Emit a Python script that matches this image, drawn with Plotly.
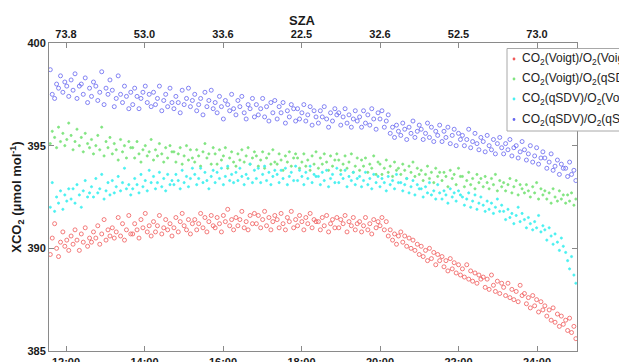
import plotly.graph_objects as go

# ---------------- data ----------------
times = [
    11.60, 11.65, 11.71, 11.76, 11.81, 11.86, 11.92, 11.97, 12.02, 12.07,
    12.13, 12.18, 12.23, 12.28, 12.34, 12.39, 12.44, 12.49, 12.55, 12.60,
    12.65, 12.70, 12.76, 12.81, 12.86, 12.91, 12.97, 13.02, 13.07, 13.12,
    13.18, 13.23, 13.28, 13.33, 13.39, 13.44, 13.49, 13.54, 13.60, 13.65,
    13.70, 13.75, 13.81, 13.86, 13.91, 13.96, 14.02, 14.07, 14.12, 14.17,
    14.23, 14.28, 14.33, 14.38, 14.44, 14.49, 14.54, 14.59, 14.65, 14.70,
    14.75, 14.80, 14.86, 14.91, 14.96, 15.01, 15.07, 15.12, 15.17, 15.22,
    15.28, 15.33, 15.38, 15.43, 15.49, 15.54, 15.59, 15.64, 15.70, 15.75,
    15.80, 15.85, 15.91, 15.96, 16.01, 16.06, 16.12, 16.17, 16.22, 16.27,
    16.33, 16.38, 16.43, 16.48, 16.54, 16.59, 16.64, 16.69, 16.75, 16.80,
    16.85, 16.90, 16.96, 17.01, 17.06, 17.11, 17.17, 17.22, 17.27, 17.32,
    17.38, 17.43, 17.48, 17.53, 17.59, 17.64, 17.69, 17.74, 17.80, 17.85,
    17.90, 17.95, 18.01, 18.06, 18.11, 18.16, 18.22, 18.27, 18.32, 18.37,
    18.43, 18.48, 18.53, 18.58, 18.64, 18.69, 18.74, 18.79, 18.85, 18.90,
    18.95, 19.00, 19.06, 19.11, 19.16, 19.21, 19.27, 19.32, 19.37, 19.42,
    19.48, 19.53, 19.58, 19.63, 19.69, 19.74, 19.79, 19.84, 19.90, 19.95,
    20.00, 20.05, 20.11, 20.16, 20.21, 20.26, 20.32, 20.37, 20.42, 20.47,
    20.53, 20.58, 20.63, 20.68, 20.74, 20.79, 20.84, 20.89, 20.95, 21.00,
    21.05, 21.10, 21.16, 21.21, 21.26, 21.31, 21.37, 21.42, 21.47, 21.52,
    21.58, 21.63, 21.68, 21.73, 21.79, 21.84, 21.89, 21.94, 22.00, 22.05,
    22.10, 22.15, 22.21, 22.26, 22.31, 22.36, 22.42, 22.47, 22.52, 22.57,
    22.63, 22.68, 22.73, 22.78, 22.84, 22.89, 22.94, 22.99, 23.05, 23.10,
    23.15, 23.20, 23.26, 23.31, 23.36, 23.41, 23.47, 23.52, 23.57, 23.62,
    23.68, 23.73, 23.78, 23.83, 23.89, 23.94, 23.99, 24.04, 24.10, 24.15,
    24.20, 24.25, 24.31, 24.36, 24.41, 24.46, 24.52, 24.57, 24.62, 24.67,
    24.73, 24.78, 24.83, 24.88, 24.94, 24.99,
]

# CO2(Voigt)/O2(Voigt)  (red)
xco2_voigt_voigt = [
    389.7, 390.5, 391.2, 390.0, 389.6, 390.3, 390.8, 390.1, 390.4, 389.9,
    390.6, 390.2, 390.9, 390.4, 389.9, 390.7, 390.3, 391.0, 390.1, 390.5,
    390.3, 390.8, 390.5, 391.1, 390.2, 390.7, 391.4, 390.4, 390.9, 390.6,
    391.0, 390.5, 390.8, 391.5, 390.6, 391.2, 390.4, 390.9, 391.6, 390.7,
    390.7, 391.2, 390.9, 390.5, 391.4, 391.0, 391.7, 390.8, 391.1, 390.6,
    391.3, 390.8, 391.1, 391.6, 390.7, 391.0, 391.4, 390.9, 391.2, 390.6,
    391.0, 391.5, 390.8, 391.3, 391.7, 391.1, 390.9, 391.4, 390.7, 391.2,
    391.4, 390.9, 391.2, 391.7, 391.0, 391.5, 390.8, 391.3, 391.6, 391.1,
    391.0, 391.5, 391.2, 390.8, 391.6, 391.3, 391.9, 391.1, 391.4, 390.9,
    391.5, 391.1, 391.4, 391.8, 391.0, 391.3, 390.9, 391.6, 391.2, 391.7,
    391.2, 391.6, 391.0, 391.4, 391.8, 391.1, 391.5, 390.9, 391.3, 391.6,
    391.4, 391.0, 391.7, 391.2, 390.9, 391.5, 391.3, 391.8, 391.0, 391.4,
    391.1, 391.6, 391.3, 390.9, 391.5, 391.2, 391.7, 391.0, 391.4, 391.3,
    391.3, 390.9, 391.5, 391.1, 391.6, 390.8, 391.2, 391.4, 391.0, 391.5,
    391.0, 391.4, 391.2, 391.6, 390.8, 391.3, 391.1, 391.5, 390.9, 391.2,
    391.3, 390.8, 391.1, 391.5, 390.9, 391.2, 390.7, 391.4, 391.0, 391.3,
    391.1, 391.5, 390.9, 391.3, 390.6, 390.9, 390.4, 390.7, 390.2, 390.6,
    390.8, 390.3, 390.6, 390.1, 390.5, 390.0, 390.4, 389.9, 390.2, 389.7,
    390.1, 389.6, 389.9, 389.4, 390.0, 389.5, 389.8, 389.2, 389.7, 389.4,
    389.6, 389.1, 389.4, 388.9, 389.5, 389.0, 389.3, 388.8, 389.2, 388.7,
    389.0, 388.6, 389.2, 388.5, 388.9, 388.4, 388.8, 388.3, 388.7, 388.5,
    388.6, 388.1, 388.5, 388.0, 388.7, 388.2, 387.9, 388.4, 387.8, 388.3,
    388.1, 387.7, 388.3, 387.6, 388.0, 387.5, 387.9, 387.4, 388.2, 387.7,
    387.8, 387.3, 387.6, 387.1, 387.7, 387.2, 387.5, 386.9, 387.4, 387.0,
    387.2, 386.7, 387.0, 386.5, 387.1, 386.4, 386.8, 386.2, 386.7, 386.3,
    386.5, 386.0, 386.6, 385.9, 386.2, 385.6,
]

# CO2(Voigt)/O2(qSDV)  (green)
xco2_voigt_qsdv = [
    395.1, 395.7, 395.4, 394.9, 395.9, 395.2, 395.6, 395.0, 395.3, 396.1,
    395.5, 394.8, 395.2, 395.8, 395.0, 395.4, 394.7, 395.6, 395.1, 394.9,
    395.3, 394.6, 395.0, 395.5, 394.8, 395.9, 394.5, 395.2, 394.9, 395.4,
    394.6, 395.1, 394.8, 394.3, 395.3, 394.7, 395.0, 394.4, 395.2, 394.9,
    394.9, 394.4, 395.2, 394.6, 394.2, 394.8, 395.0, 394.5, 394.7, 395.3,
    394.3, 394.8, 394.5, 395.1, 394.6, 394.2, 394.9, 394.4, 395.0, 394.7,
    394.7, 394.2, 394.6, 394.9, 394.1, 394.5, 395.0, 394.3, 394.8, 394.4,
    394.2, 394.8, 394.5, 394.0, 394.7, 395.1, 394.4, 394.6, 394.1, 394.9,
    394.6, 394.1, 394.8, 394.3, 394.5, 394.9, 393.9, 394.4, 394.7, 394.2,
    394.0, 394.6, 394.3, 394.8, 394.2, 394.5, 394.9, 394.1, 394.4, 394.7,
    394.5, 394.0, 394.3, 394.7, 393.9, 394.4, 394.6, 394.1, 394.8, 394.2,
    394.1, 394.6, 394.3, 393.8, 394.5, 394.2, 394.7, 394.0, 394.4, 394.6,
    394.4, 393.9, 394.2, 394.6, 394.0, 394.3, 393.8, 394.5, 394.1, 394.7,
    393.9, 394.4, 394.1, 394.6, 394.2, 393.8, 394.5, 394.0, 394.3, 394.6,
    394.3, 393.8, 394.1, 394.5, 393.9, 394.2, 394.6, 393.7, 394.0, 394.4,
    393.8, 394.3, 394.0, 394.4, 393.7, 394.1, 393.9, 394.5, 393.6, 394.2,
    394.1, 393.6, 393.9, 394.3, 393.7, 394.0, 393.5, 394.2, 393.8, 393.9,
    393.6, 394.1, 393.8, 393.4, 394.0, 393.7, 394.2, 393.5, 393.9, 393.6,
    393.8, 393.3, 393.6, 394.0, 393.4, 393.7, 393.2, 393.9, 393.5, 393.7,
    393.3, 393.7, 393.5, 393.0, 393.8, 393.4, 393.6, 393.1, 393.9, 393.5,
    393.5, 393.0, 393.3, 393.7, 393.1, 393.4, 392.9, 393.6, 393.2, 393.4,
    393.0, 393.5, 393.2, 392.9, 393.4, 393.1, 393.6, 392.8, 393.3, 393.0,
    393.2, 392.8, 393.1, 393.4, 392.7, 393.0, 393.3, 392.6, 393.1, 392.9,
    392.7, 393.1, 392.8, 392.5, 393.0, 392.7, 393.2, 392.4, 392.9, 392.6,
    392.8, 392.4, 392.7, 392.2, 392.9, 392.5, 392.3, 392.8, 392.4, 392.6,
    392.2, 392.6, 392.3, 392.7, 392.1, 392.4,
]

# CO2(qSDV)/O2(Voigt)  (cyan)
xco2_qsdv_voigt = [
    392.0, 393.2, 391.8, 392.5, 392.2, 392.8, 391.9, 392.6, 392.3, 392.9,
    392.4, 392.9, 392.2, 393.1, 392.6, 392.0, 392.8, 393.3, 392.5, 392.7,
    393.0, 392.5, 393.4, 392.7, 392.9, 393.6, 392.4, 392.8, 393.2, 392.6,
    393.3, 392.7, 393.0, 393.5, 392.8, 393.2, 393.9, 392.9, 393.1, 392.6,
    392.9, 393.4, 393.1, 392.7, 393.6, 393.0, 393.3, 392.8, 393.8, 393.2,
    393.5, 392.9, 393.2, 393.7, 393.0, 393.4, 392.8, 393.6, 393.1, 393.3,
    393.1, 393.6, 393.3, 392.9, 393.8, 393.2, 393.5, 393.0, 393.4, 393.9,
    393.6, 393.1, 393.4, 393.9, 393.2, 393.7, 393.3, 392.9, 393.5, 393.8,
    393.2, 393.7, 393.4, 393.9, 393.1, 393.5, 394.0, 393.3, 393.6, 393.2,
    393.7, 393.3, 393.9, 393.5, 393.1, 393.6, 393.4, 394.1, 393.2, 393.8,
    393.4, 393.9, 393.2, 393.6, 394.0, 393.3, 393.7, 393.1, 393.5, 393.8,
    393.6, 393.2, 393.8, 393.4, 393.9, 393.1, 393.5, 393.7, 393.3, 394.0,
    393.3, 393.8, 393.5, 393.1, 393.7, 393.4, 394.0, 393.2, 393.6, 393.5,
    393.5, 393.1, 393.7, 393.3, 393.8, 393.0, 393.4, 393.6, 393.2, 393.9,
    393.2, 393.6, 393.4, 393.8, 393.0, 393.5, 393.3, 393.7, 393.1, 393.4,
    393.5, 393.0, 393.3, 393.7, 393.1, 393.4, 392.9, 393.6, 393.2, 393.5,
    393.0, 393.4, 393.2, 392.8, 393.5, 393.1, 393.3, 392.9, 393.6, 393.2,
    393.2, 392.8, 393.1, 393.4, 392.7, 393.0, 393.3, 392.6, 393.1, 392.9,
    392.9, 392.5, 393.0, 392.7, 393.2, 392.6, 392.8, 392.4, 393.1, 392.7,
    392.4, 392.8, 392.6, 392.2, 392.9, 392.5, 392.7, 392.3, 392.8, 392.6,
    392.5, 392.1, 392.4, 392.7, 392.0, 392.3, 392.6, 391.9, 392.2, 392.5,
    392.1, 391.8, 392.3, 391.9, 392.2, 391.7, 392.0, 392.4, 391.8, 392.1,
    391.8, 391.4, 391.9, 391.5, 391.7, 391.2, 391.6, 392.0, 391.3, 391.7,
    391.4, 391.0, 391.5, 391.2, 390.9, 391.3, 391.0, 391.6, 390.8, 391.1,
    390.9, 390.4, 391.0, 390.6, 390.2, 390.7, 390.3, 389.9, 390.5, 390.1,
    389.8, 389.4, 389.0, 389.6, 388.7, 388.3,
]

# CO2(qSDV)/O2(qSDV)  (blue)
xco2_qsdv_qsdv = [
    398.7, 397.5, 397.3, 398.0, 397.8, 398.4, 397.6, 398.1, 397.9, 397.4,
    398.2, 397.7, 398.5, 397.3, 397.9, 398.0, 397.5, 398.3, 397.1, 397.8,
    397.4, 398.1, 397.9, 397.2, 397.6, 398.6, 397.0, 397.8, 397.5, 398.2,
    397.7, 396.9, 397.3, 398.4, 397.5, 397.1, 397.9, 397.4, 396.8, 397.6,
    397.0, 397.8, 397.4, 396.8, 397.3, 397.6, 397.9, 397.1, 397.5, 396.9,
    397.6, 397.0, 397.3, 397.9, 396.7, 397.2, 397.5, 396.9, 397.8, 397.1,
    396.8, 397.4, 397.1, 396.6, 397.7, 397.0, 397.3, 397.8, 396.9, 397.2,
    397.5, 396.7, 397.0, 397.3, 396.5, 397.6, 396.9, 397.2, 397.7, 396.8,
    397.1, 396.6, 397.4, 396.9, 396.3, 397.2, 397.0, 396.7, 397.5, 396.8,
    396.5, 397.2, 396.9, 397.4, 396.6, 396.3, 397.0, 396.8, 397.3, 396.4,
    397.0, 396.5, 396.8, 397.3, 396.4, 396.9, 396.2, 397.1, 396.6, 397.2,
    396.3, 396.9, 396.6, 397.1, 396.1, 396.7, 396.4, 397.0, 396.8, 396.2,
    396.8, 396.3, 396.6, 397.0, 396.2, 396.5, 396.9, 396.0, 396.7, 396.4,
    396.1, 396.7, 396.4, 396.9, 396.3, 395.9, 396.6, 396.2, 396.8, 396.5,
    396.6, 396.0, 396.4, 396.8, 396.1, 396.5, 395.9, 396.3, 396.7, 396.2,
    396.4, 395.9, 396.7, 396.1, 396.5, 396.0, 396.8, 396.3, 395.8, 396.6,
    396.3, 396.7, 395.9, 396.2, 396.5, 395.6, 395.9, 395.4, 396.0, 395.7,
    395.5, 396.1, 395.8, 395.3, 395.9, 395.6, 396.2, 395.4, 395.7, 396.0,
    395.8, 395.3, 395.6, 396.1, 395.4, 395.9, 395.2, 395.7, 395.5, 396.0,
    395.2, 395.7, 395.4, 395.9, 395.1, 395.5, 395.8, 395.0, 395.6, 395.3,
    395.5, 395.0, 395.3, 395.8, 394.9, 395.2, 395.6, 395.1, 394.8, 395.4,
    395.2, 394.7, 395.5, 395.0, 394.8, 395.3, 394.6, 395.1, 395.4, 394.9,
    394.6, 395.1, 394.8, 395.3, 394.5, 394.9, 395.0, 394.4, 394.7, 395.2,
    394.8, 394.3, 394.6, 395.0, 394.2, 394.5, 394.9, 394.1, 394.4, 394.7,
    394.4, 393.9, 394.2, 394.6, 393.8, 394.0, 394.3, 393.6, 394.1, 393.9,
    393.9, 393.5, 394.2, 393.6, 393.8, 393.3,
]

series_names = [
    "CO<sub>2</sub>(Voigt)/O<sub>2</sub>(Voigt)",
    "CO<sub>2</sub>(Voigt)/O<sub>2</sub>(qSDV)",
    "CO<sub>2</sub>(qSDV)/O<sub>2</sub>(Voigt)",
    "CO<sub>2</sub>(qSDV)/O<sub>2</sub>(qSDV)",
]
series_values = [xco2_voigt_voigt, xco2_voigt_qsdv, xco2_qsdv_voigt, xco2_qsdv_qsdv]

time_ticks = [12, 14, 16, 18, 20, 22, 24]
time_labels = ["12:00", "14:00", "16:00", "18:00", "20:00", "22:00", "24:00"]
sza_labels = ["73.8", "53.0", "33.6", "22.5", "32.6", "52.5", "73.0"]
y_ticks = [385, 390, 395, 400]

# ---------------- styling ----------------
FONT = "Liberation Sans, Arial, Helvetica, sans-serif"
colors = ["#f05a5a", "#80e480", "#48f0f0", "#6666f0"]
symbols = ["circle-open", "circle", "circle", "circle-open"]
sizes = [4, 2.2, 2.2, 4]
AXC = "#8a8a8a"
X_RANGE = [11.567, 25.019]

fig = go.Figure()
for name, vals, c, s, sz in zip(series_names, series_values, colors, symbols, sizes):
    fig.add_trace(go.Scatter(
        x=times, y=vals, mode="markers", name=name, showlegend=False,
        marker=dict(symbol=s, size=sz, color=c, line=dict(width=0.8, color=c)),
    ))

# invisible trace to activate the top (SZA) axis
fig.add_trace(go.Scatter(x=[times[0]], y=[None], xaxis="x2", mode="markers",
                         showlegend=False, hoverinfo="skip"))

tickfont = dict(family=FONT, size=11, color="#1a1a1a", weight="bold")

fig.update_layout(
    width=619, height=362,
    margin=dict(l=49, r=42, t=43, b=11),
    paper_bgcolor="white", plot_bgcolor="white",
    font=dict(family=FONT),
    xaxis=dict(
        range=X_RANGE, tickvals=time_ticks, ticktext=time_labels, automargin=False,
        ticks="inside", ticklen=5, tickcolor=AXC, showline=True, linecolor=AXC,
        linewidth=1, showgrid=False, zeroline=False, tickfont=tickfont,
        ticklabelstandoff=1,
    ),
    xaxis2=dict(
        range=X_RANGE, overlaying="x", side="top", anchor="y", automargin=False,
        tickvals=time_ticks, ticktext=sza_labels,
        ticks="inside", ticklen=5, tickcolor=AXC, showline=True, linecolor=AXC,
        linewidth=1, showgrid=False, zeroline=False, tickfont=tickfont,
    ),
    yaxis=dict(
        range=[385, 400], tickvals=y_ticks, ticks="inside", ticklen=5, automargin=False,
        tickcolor=AXC, showline=True, linecolor=AXC, linewidth=1, mirror="ticks",
        showgrid=False, zeroline=False, tickfont=tickfont,
        title=dict(text="XCO<sub>2</sub> (μmol mol<sup>-1</sup>)",
                   font=dict(family=FONT, size=13, color="#1a1a1a", weight="bold"),
                   standoff=2),
    ),
)

# SZA axis title
fig.add_annotation(text="SZA", xref="paper", yref="paper",
                   x=(302 - 49) / 528, y=(351 - 20) / 308,
                   showarrow=False, xanchor="center", yanchor="middle",
                   font=dict(family=FONT, size=13, color="#1a1a1a", weight="bold"))

# legend box (drawn as shapes + text so it can sit partly outside the figure, like the original)
def px_x(p):
    return (p - 49) / 528

def px_y(p):
    return (351 - p) / 308

fig.add_shape(type="rect", xref="paper", yref="paper",
              x0=px_x(507), x1=px_x(640), y0=px_y(131), y1=px_y(48.5),
              fillcolor="white", line=dict(color="#a8a8a8", width=1), layer="above")

legend_rows = [59, 79, 99, 119.5]
for name, c, row in zip(series_names, colors, legend_rows):
    fig.add_shape(type="circle", xref="paper", yref="paper",
                  xsizemode="pixel", ysizemode="pixel",
                  xanchor=px_x(514), yanchor=px_y(row),
                  x0=-1.4, x1=1.4, y0=-1.4, y1=1.4,
                  fillcolor=c, line=dict(color=c, width=0), layer="above")
    fig.add_annotation(text=name, xref="paper", yref="paper",
                       x=px_x(520), y=px_y(row), showarrow=False,
                       xanchor="left", yanchor="middle",
                       font=dict(family=FONT, size=12, color="#222222"))

fig.write_html("out.html")
